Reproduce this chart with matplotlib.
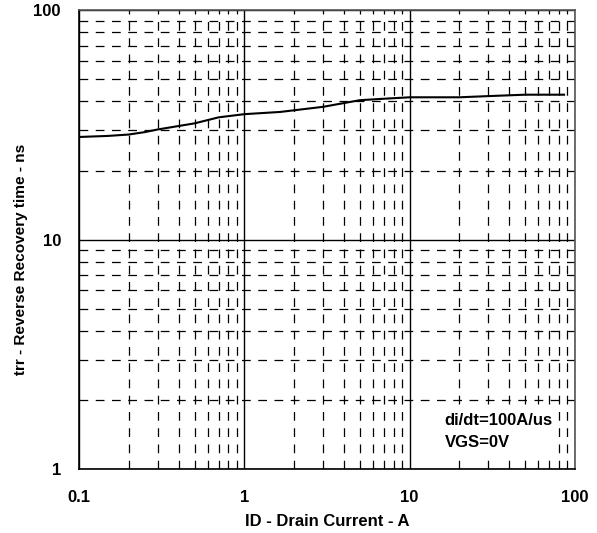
import numpy as np
import matplotlib.pyplot as plt
from matplotlib.ticker import LogLocator, FixedLocator

plt.rcParams['font.family'] = ['Liberation Sans', 'DejaVu Sans']

# curve
current = [0.1, 0.15, 0.2, 0.25, 0.3, 0.5, 0.7, 1.0, 1.65, 3.0, 5.0, 7.0, 10, 20, 30, 50, 86]
trr = [28.0, 28.3, 28.7, 29.4, 30.2, 32.1, 34.1, 35.2, 36.0, 37.9, 40.5, 41.1, 41.7, 41.7, 42.2, 42.8, 42.8]

x_ticks = [0.1, 1, 10, 100]
x_ticklabels = ['0.1', '1', '10', '100']
y_ticks = [1, 10, 100]
y_ticklabels = ['1', '10', '100']

fig = plt.figure(figsize=(5.97, 5.33), dpi=100)
ax = fig.add_axes([0.1323, 0.120, 0.8307, 0.861])

ax.plot(current, trr, color='black', lw=1.5, zorder=3)

ax.set_xscale('log')
ax.set_yscale('log')
ax.set_xlim(0.1, 100)
ax.set_ylim(1, 100)

ax.xaxis.set_major_locator(FixedLocator(x_ticks))
ax.yaxis.set_major_locator(FixedLocator(y_ticks))
ax.set_xticklabels(x_ticklabels)
ax.set_yticklabels(y_ticklabels)
ax.xaxis.set_minor_locator(LogLocator(base=10, subs=np.arange(2, 10)))
ax.yaxis.set_minor_locator(LogLocator(base=10, subs=np.arange(2, 10)))
ax.xaxis.set_minor_formatter(plt.NullFormatter())
ax.yaxis.set_minor_formatter(plt.NullFormatter())

ax.grid(which='major', color='black', lw=1.0, ls='-')
ax.grid(which='minor', color='black', lw=0.9, ls=(0, (7, 6)))
ax.tick_params(which='both', length=0)
ax.tick_params(axis='x', pad=15, labelsize=12)
ax.tick_params(axis='y', pad=13, labelsize=12)
for lbl in ax.get_xticklabels() + ax.get_yticklabels():
    lbl.set_fontweight('bold')

for s in ax.spines.values():
    s.set_color('#555555')
    s.set_linewidth(1.2)
ax.spines['left'].set_color('black')
ax.spines['bottom'].set_color('black')

fig.text(ax.get_position().x0 + ax.get_position().width / 2, 1 - 521 / 533,
         'ID - Drain Current - A', fontsize=12, fontweight='bold',
         ha='center', va='center')
fig.text(21 / 597, 1 - 259 / 533, 'trr - Reverse Recovery time - ns',
         fontsize=11.1, fontweight='bold', rotation=90, ha='center', va='center')

ax.text(0.737, 0.081, 'di/dt=100A/us\nVGS=0V', transform=ax.transAxes,
        fontsize=12, fontweight='bold', ha='left', va='center', linespacing=1.6,
        bbox=dict(facecolor='white', edgecolor='none', pad=4), zorder=4)

fig.savefig('out.png', dpi=100)
